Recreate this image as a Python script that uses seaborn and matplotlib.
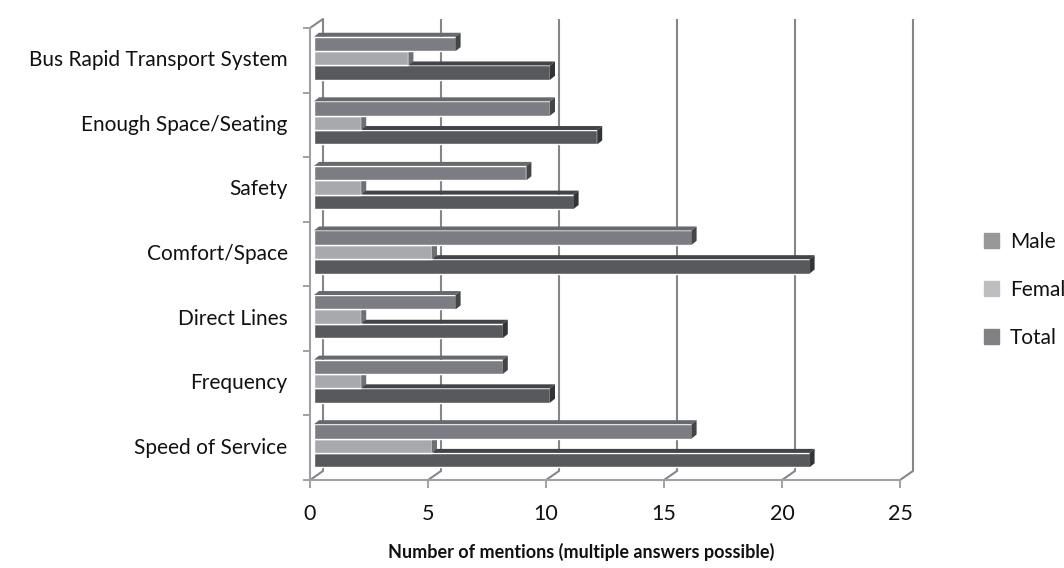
import pandas as pd
import matplotlib.pyplot as plt
import seaborn as sns
from matplotlib.patches import Patch, Polygon

# ================================================================
# DATA
# ================================================================
CATEGORIES = [
    "Bus Rapid Transport System",
    "Enough Space/Seating",
    "Safety",
    "Comfort/Space",
    "Direct Lines",
    "Frequency",
    "Speed of Service",
]
MALE = [6, 10, 9, 16, 6, 8, 16]
FEMALE = [4, 2, 2, 5, 2, 2, 5]
TOTAL = [10, 12, 11, 21, 8, 10, 21]
SERIES = ["Male", "Female", "Total"]
X_TICKS = [0, 5, 10, 15, 20, 25]

# ================================================================
# STYLE
# ================================================================
W, H = 1064, 568
FRONT = {"Male": "#7c7d82", "Female": "#a7a9ad", "Total": "#58595c"}
TOP = {"Male": "#68696d", "Female": "#8e8f93", "Total": "#434447"}
SIDE = {"Male": "#444549", "Female": "#6f7074", "Total": "#333437"}
SWATCH = {"Male": "#97989c", "Female": "#bcbec2", "Total": "#808185"}
ORDER = {"Male": 4, "Female": 3, "Total": 2}
GRID = "#85868a"
FLOOR = "#a0a1a5"

sns.set_style("white")
plt.rcParams["font.family"] = ["Lato", "DejaVu Sans"]

df = pd.DataFrame({
    "feature": CATEGORIES * 3,
    "mentions": MALE + FEMALE + TOTAL,
    "gender": [s for s in SERIES for _ in CATEGORIES],
})

fig = plt.figure(figsize=(W / 100, H / 100), dpi=100)


def pixel_axes(left, top, right, bottom):
    return fig.add_axes([left / W, 1 - bottom / H, (right - left) / W, (bottom - top) / H])


# ================================================================
# WALLS (back gridlines, floor, left wall)
# ================================================================
wall = pixel_axes(310, 28, 900, 480)
wall.set_xlim(0, 25)
wall.set_ylim(0, 1)
depth_x = 13 / 590 * 25
depth_y = 9 / 452

wall.vlines([t + depth_x for t in X_TICKS], depth_y, 1 + depth_y, color=GRID, lw=1.5, clip_on=False)
for t in X_TICKS:
    wall.plot([t, t + depth_x], [0, depth_y], color=GRID, lw=1.5, clip_on=False)
wall.plot([0, depth_x], [1, 1 + depth_y], color=GRID, lw=1.5, clip_on=False)

sns.despine(ax=wall, top=True, right=True)
for side in ["left", "bottom"]:
    wall.spines[side].set_color(FLOOR)
    wall.spines[side].set_linewidth(1.5)

wall.set_xticks(X_TICKS)
wall.set_yticks([i / len(CATEGORIES) for i in range(len(CATEGORIES) + 1)])
wall.set_yticklabels([])
wall.tick_params(axis="x", length=6, width=1.4, color=FLOOR, pad=11, labelsize=15.5, bottom=True, labelcolor="#111111")
wall.tick_params(axis="y", length=5, width=1.4, color=FLOOR, left=True)
wall.set_xlabel("Number of mentions (multiple answers possible)", x=(581 - 310) / 590,
                fontsize=13, fontweight="bold", labelpad=14, color="#111111")

# ================================================================
# BARS
# ================================================================
ax = pixel_axes(314, 26, 904, 478)
ax.patch.set_alpha(0)
sns.barplot(
    data=df, y="feature", x="mentions", hue="gender",
    order=CATEGORIES, hue_order=SERIES, palette=FRONT,
    width=0.667, gap=0, saturation=1, legend=False, ax=ax,
)
ax.set_xlim(0, 25)
ax.set_ylim(len(CATEGORIES) - 0.5, -0.5)
sns.despine(ax=ax, left=True, bottom=True)
ax.set_xticks([])
ax.set_xlabel("")
ax.set_ylabel("")
ax.tick_params(axis="y", length=0, pad=19, labelsize=15, labelcolor="#111111")

# 3D faces built from the bars seaborn has drawn
bar_dx = 5 / 590 * 25
bar_dy = 4 / (452 / len(CATEGORIES))
for name, container in zip(SERIES, ax.containers):
    for bar in container:
        bar.set_zorder(ORDER[name])
        x1 = bar.get_x() + bar.get_width()
        y0 = min(bar.get_y(), bar.get_y() + bar.get_height())
        y1 = max(bar.get_y(), bar.get_y() + bar.get_height())
        ax.add_patch(Polygon(
            [(0, y0), (x1, y0), (x1 + bar_dx, y0 - bar_dy), (bar_dx, y0 - bar_dy)],
            color=TOP[name], lw=0, zorder=ORDER[name],
        ))
        ax.add_patch(Polygon(
            [(x1, y0), (x1 + bar_dx, y0 - bar_dy), (x1 + bar_dx, y1 - bar_dy), (x1, y1)],
            color=SIDE[name], lw=0, zorder=ORDER[name],
        ))

# ================================================================
# LEGEND
# ================================================================
handles = [Patch(color=SWATCH[s], label=s) for s in SERIES]
fig.legend(
    handles=handles, loc="center left", bbox_to_anchor=(965 / W, 1 - 290 / H),
    frameon=False, fontsize=15, labelspacing=1.35, handlelength=0.75, handleheight=0.75,
    handletextpad=0.5, labelcolor="#111111",
)

fig.savefig("out.png", dpi=100)
